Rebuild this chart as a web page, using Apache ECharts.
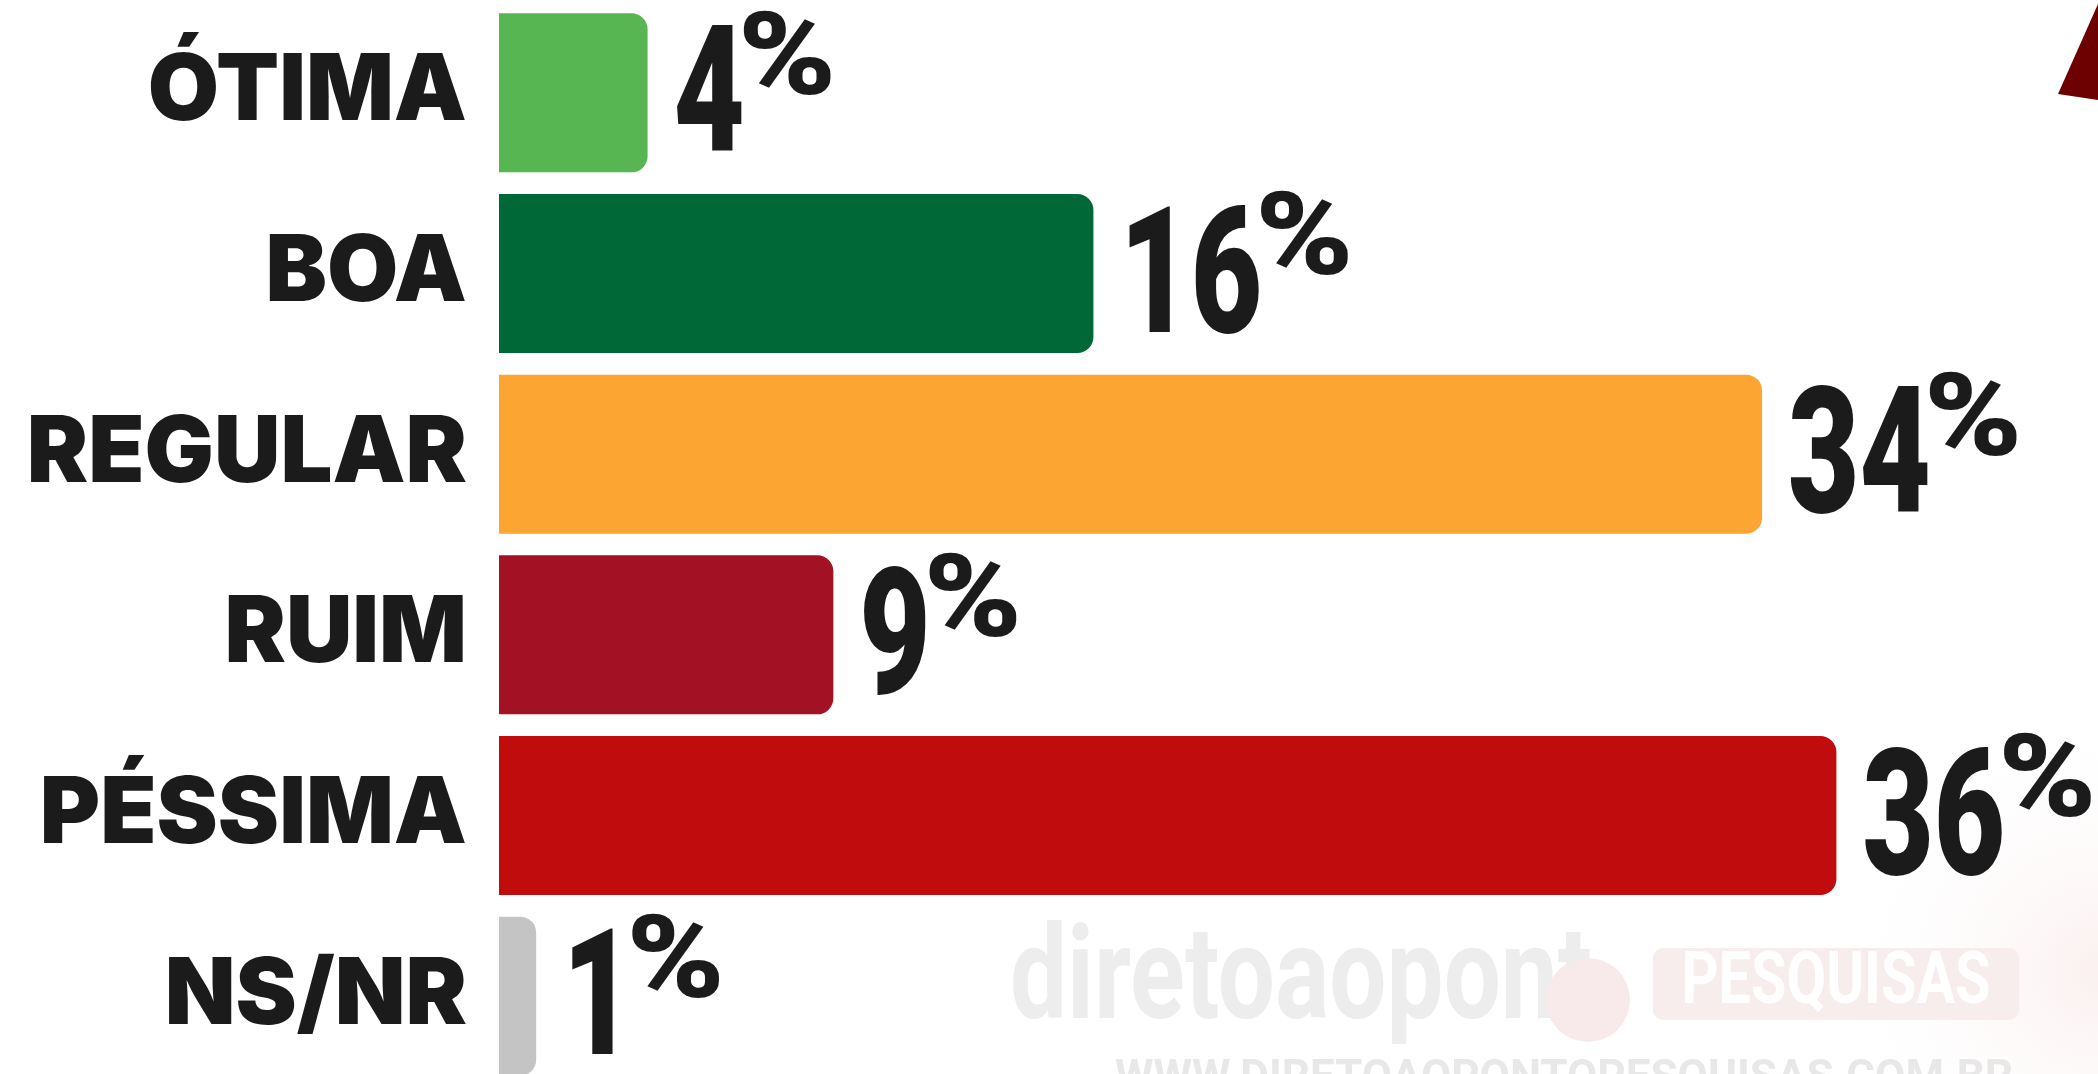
<!DOCTYPE html>
<html>
<head>
<meta charset="utf-8">
<script src="https://cdn.jsdelivr.net/npm/echarts@6/dist/echarts.min.js"></script>
<style>
html,body{margin:0;padding:0;background:#fff;}
#main{width:2098px;height:1074px;}
</style>
</head>
<body>
<div id="main"></div>
<script>
// dados da pesquisa
var categorias = ['ÓTIMA', 'BOA', 'REGULAR', 'RUIM', 'PÉSSIMA', 'NS/NR'];
var valores = [4, 16, 34, 9, 36, 1];
var cores = ['#57b652', '#006837', '#fca532', '#a31224', '#c10c0d', '#c4c4c4'];

var myChart = echarts.init(document.getElementById('main'));

// fonte dos numeros (condensada via scaleX)
var fonteNumero = '900 176px Roboto';
var fontePct = '900 115px Roboto';
var escalaNumero = 0.7;
var ctxMedida = document.createElement('canvas').getContext('2d');
function largura(txt, fonte){
	ctxMedida.font = fonte;
	return ctxMedida.measureText(txt).width;
}

var option = {
	animation: false,
	backgroundColor: '#fff',
	grid: {left: 499, right: 113, top: 2.5, bottom: -12.5, outerBoundsMode: 'none', containLabel: false},
	xAxis: {type: 'value', min: 0, max: 40, show: false},
	yAxis: {
		type: 'category',
		inverse: true,
		data: categorias,
		axisLine: {show: false},
		axisTick: {show: false},
		axisLabel: {
			margin: 32,
			padding: [36, 0, 0, 0],
			fontFamily: 'Inter',
			fontWeight: 900,
			fontSize: 92,
			color: '#1b1b1b'
		}
	},
	graphic: [
		// triangulo vermelho no canto
		{type: 'polygon', shape: {points: [[2098, 4], [2058, 94], [2098, 100]]}, style: {fill: '#6d0101'}},
		{type: 'rect', shape: {x: 1800, y: 560, width: 298, height: 514}, silent: true, z: -2,
			style: {fill: new echarts.graphic.RadialGradient(1, 0.8, 0.9, [
				{offset: 0, color: 'rgba(200,40,40,0.07)'},
				{offset: 1, color: 'rgba(255,255,255,0)'}
			])}},
		// marca d'agua
		{type: 'text', x: 1010, y: 985, scaleX: 0.78, z: -1,
			style: {text: 'diretoaopont', font: 'bold 130px Roboto', fill: '#ededed', verticalAlign: 'middle'}},
		{type: 'circle', shape: {cx: 1588, cy: 1000, r: 42}, z: -1, style: {fill: '#f8eaea'}},
		{type: 'rect', shape: {x: 1653, y: 948, width: 366, height: 72, r: 10}, z: -1, style: {fill: '#f7eded'}},
		{type: 'text', x: 1836, y: 985, scaleX: 0.8, z: -1,
			style: {text: 'PESQUISAS', font: 'bold 72px Roboto', fill: '#ffffff', align: 'center', verticalAlign: 'middle'}},
		{type: 'text', x: 1115, y: 1080, z: -1,
			style: {text: 'WWW.DIRETOAOPONTOPESQUISAS.COM.BR', font: 'bold 44px Roboto', fill: '#e8e8e8', verticalAlign: 'middle'}}
	],
	series: [
		{
			type: 'bar',
			barWidth: 159,
			data: valores.map(function(v, i){
				return {value: v, itemStyle: {color: cores[i]}};
			}),
			itemStyle: {borderRadius: [0, 16, 16, 0]}
		},
		{
			// rotulos de porcentagem
			type: 'custom',
			data: valores.map(function(v, i){ return [v, i]; }),
			encode: {x: 0, y: 1},
			z: 5,
			renderItem: function(params, api){
				var v = api.value(0);
				var p = api.coord([v, api.value(1)]);
				var x0 = p[0] + 26;
				var txt = String(v);
				var w = largura(txt, fonteNumero) * escalaNumero;
				return {
					type: 'group',
					children: [
						{type: 'text', x: x0, y: p[1] + 14, scaleX: escalaNumero,
							style: {text: txt, font: fonteNumero, fill: '#1b1b1b', verticalAlign: 'middle'}},
						{type: 'text', x: x0 + w - 7, y: p[1] - 28, scaleX: 1.15,
							style: {text: '%', font: fontePct, fill: '#1b1b1b', verticalAlign: 'middle'}}
					]
				};
			}
		}
	]
};
myChart.setOption(option);
</script>
</body>
</html>
